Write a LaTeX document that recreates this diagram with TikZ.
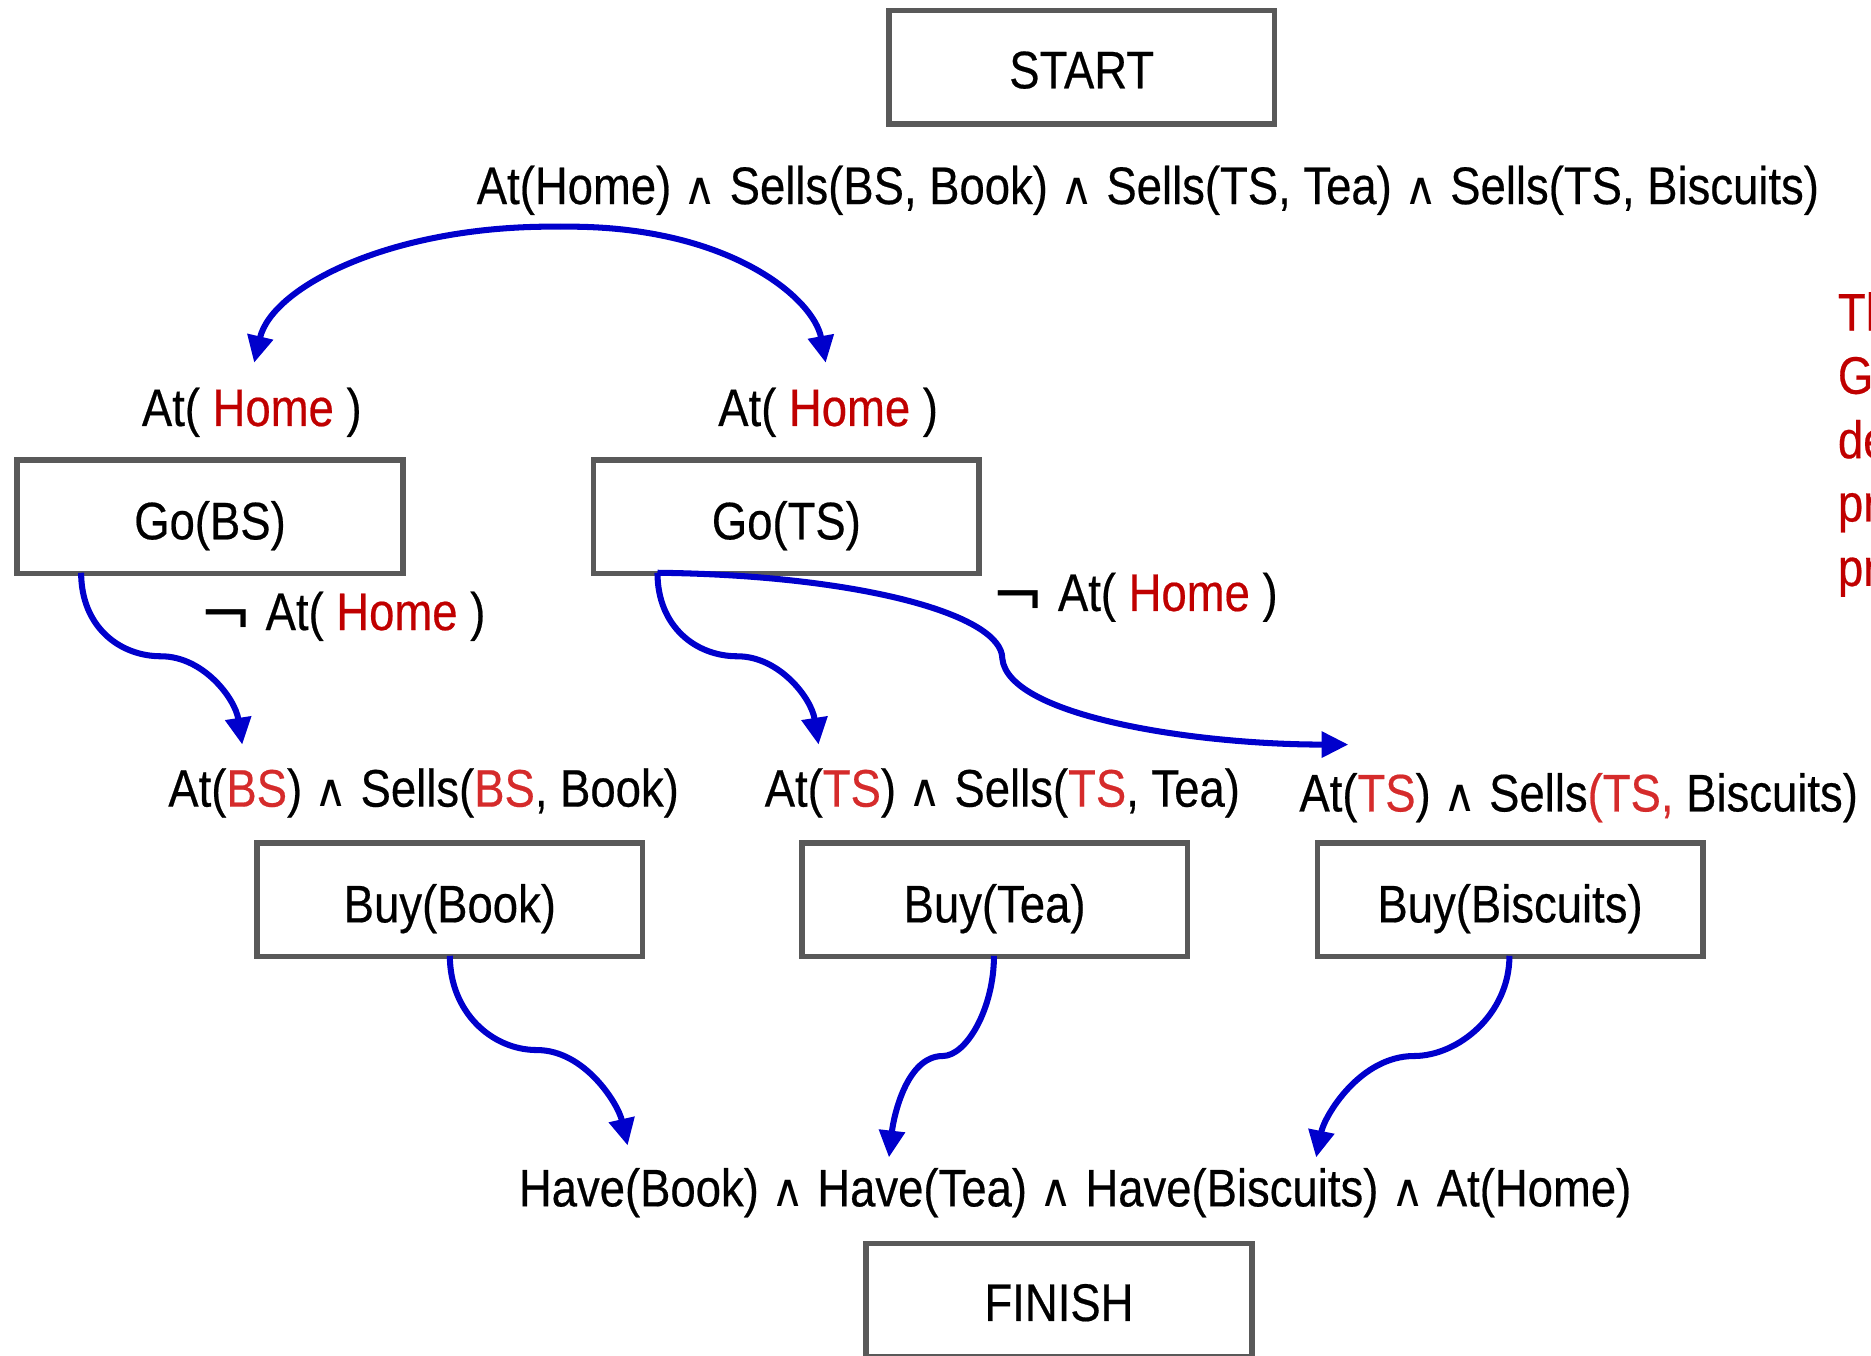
\documentclass[tikz,border=0pt]{standalone}
\usepackage{fontspec}
\setmainfont[FakeStretch=0.86,FakeBold=0.4]{Liberation Sans}
\newfontfamily\symfam{DejaVu Sans}
\usetikzlibrary{arrows.meta}
\definecolor{boxgray}{HTML}{595959}
\definecolor{arrowblue}{HTML}{0000CC}
\definecolor{homered}{HTML}{C00000}
\definecolor{brightred}{HTML}{D52B2B}
\newcommand{\hr}[1]{\textcolor{homered}{#1}}
\newcommand{\br}[1]{\textcolor{brightred}{#1}}
\newcommand{\wdg}{{\symfam\fontsize{27}{30}\selectfont ∧}}
\newcommand{\ngt}{\raisebox{-0.12em}{\symfam\fontsize{38}{40}\selectfont ¬}}
\begin{document}
\begin{tikzpicture}[x=0.025cm,y=-0.025cm,
  every node/.style={font=\fontsize{31.5}{38}\selectfont, inner sep=0pt},
  stepbox/.style={draw=boxgray, line width=3.3pt, minimum width=8.075cm, minimum height=2.375cm},
  link/.style={draw=arrowblue, line width=3.6pt, -{Triangle[length=16pt,width=15pt]}}]
\useasboundingbox (0,0) rectangle (1568,1136);

% boxes
\node[stepbox] (start) at (906.5,56.5) {};
\node[anchor=base] (startt) at (906.5,74) {START};
\node[stepbox] (gobs) at (176,433) {};
\node[anchor=base] (gobst) at (176,452) {Go(BS)};
\node[stepbox] (gots) at (659,433) {};
\node[anchor=base] (gotst) at (659,452) {Go(TS)};
\node[stepbox] (buybook) at (377,754) {};
\node[anchor=base] (buybookt) at (377,773) {Buy(Book)};
\node[stepbox] (buytea) at (833.5,754) {};
\node[anchor=base] (buyteat) at (833.5,773) {Buy(Tea)};
\node[stepbox] (buybis) at (1265.5,754) {};
\node[anchor=base] (buybist) at (1265.5,773) {Buy(Biscuits)};
\node[stepbox] (finish) at (887.5,1089.5) {};
\node[anchor=base] (finisht) at (887.5,1107) {FINISH};

% conditions
\node[anchor=base] (init) at (962,171) {At(Home) \wdg{} Sells(BS, Book) \wdg{} Sells(TS, Tea) \wdg{} Sells(TS, Biscuits)};
\node[anchor=base] (pre1) at (211,357) {At( \hr{Home} )};
\node[anchor=base] (pre2) at (694,357) {At( \hr{Home} )};
\node[anchor=base] (del1) at (287,528) {\ngt{} At( \hr{Home} )};
\node[anchor=base] (del2) at (951,512) {\ngt{} At( \hr{Home} )};
\node[anchor=base] (prebook) at (355,676) {At(\br{BS}) \wdg{} Sells(\br{BS}, Book)};
\node[anchor=base] (pretea) at (840,676) {At(\br{TS}) \wdg{} Sells(\br{TS}, Tea)};
\node[anchor=base] (prebis) at (1323,680) {At(\br{TS}) \wdg{} Sells\br{(TS,} Biscuits)};
\node[anchor=base] (goal) at (901,1011) {Have(Book) \wdg{} Have(Tea) \wdg{} Have(Biscuits) \wdg{} At(Home)};

% clipped side note
\node[anchor=base west, text=homered] (n1) at (1540,277) {Th};
\node[anchor=base west, text=homered] (n2) at (1540,330) {G};
\node[anchor=base west, text=homered] (n3) at (1540,384) {de};
\node[anchor=base west, text=homered] (n4) at (1540,437) {pr};
\node[anchor=base west, text=homered] (n5) at (1540,491) {pr};

% connector points
\coordinate (s0) at (470,190);
\coordinate (e1) at (213,304);
\coordinate (e2) at (692,304);
\coordinate (s3) at (68,480);
\coordinate (e3) at (203,624);
\coordinate (s4) at (551,480);
\coordinate (e4) at (686,624);
\coordinate (e5) at (1130,624);
\coordinate (s6) at (377,801);
\coordinate (e6) at (526,960);
\coordinate (s7) at (833,801);
\coordinate (e7) at (745,970);
\coordinate (s8) at (1265,801);
\coordinate (e8) at (1103,970);

\draw[link] (s0) .. controls (330,188) and (228,240) .. (e1);
\draw[link] (s0) .. controls (610,188) and (682,250) .. (e2);
\draw[link] (s3) .. controls (68,525) and (100,550) .. (135,550) .. controls (170,550) and (197,585) .. (e3);
\draw[link] (s4) .. controls (551,525) and (583,550) .. (618,550) .. controls (653,550) and (680,585) .. (e4);
\draw[link] (s4) .. controls (720,482) and (840,515) .. (840,552) .. controls (845,600) and (1000,624) .. (e5);
\draw[link] (s6) .. controls (377,848) and (412,880) .. (450,880) .. controls (490,880) and (518,925) .. (e6);
\draw[link] (s7) .. controls (833,845) and (810,885) .. (790,885) .. controls (760,885) and (749,935) .. (e7);
\draw[link] (s8) .. controls (1265,850) and (1222,885) .. (1185,885) .. controls (1140,885) and (1110,935) .. (e8);
\end{tikzpicture}
\end{document}
